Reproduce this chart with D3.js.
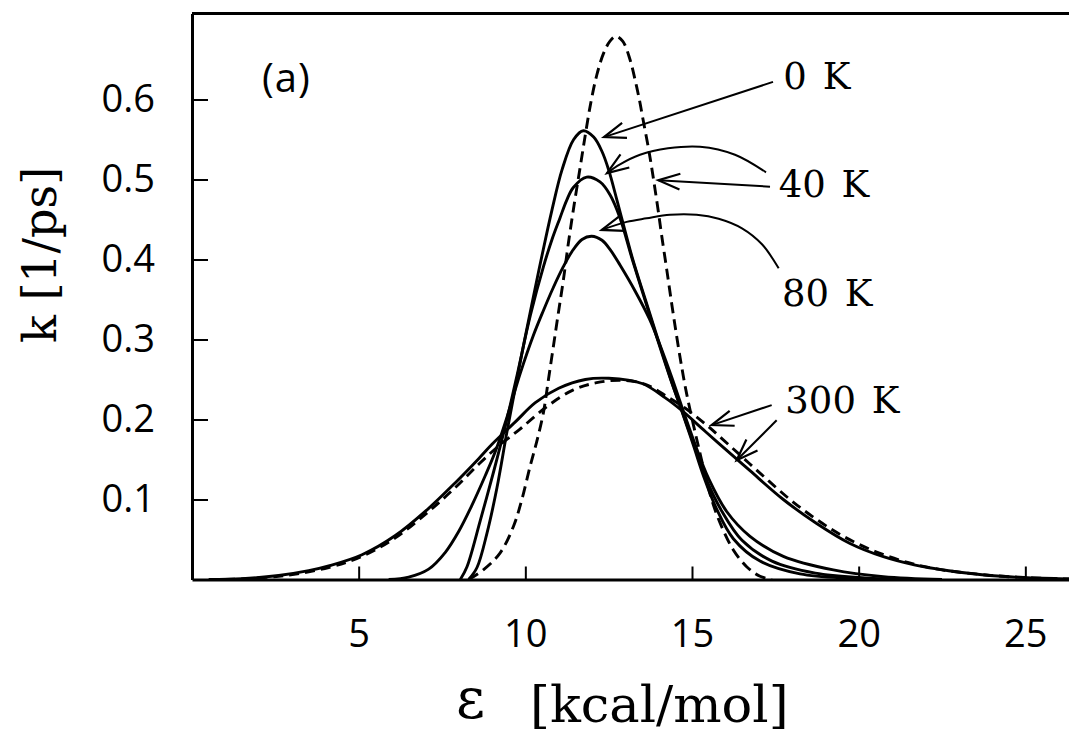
<!DOCTYPE html>
<html>
<head>
<meta charset="utf-8">
<script src="https://cdn.jsdelivr.net/npm/d3@7"></script>
<style>
  body { margin: 0; background: #fff; }
  svg { display: block; }
</style>
</head>
<body>
<svg class="chart"></svg>
<script>
// Datos: [epsilon (kcal/mol), k (1/ps)]
var solid0K = [[8.30,0.000],[8.55,0.015],[8.85,0.058],[9.15,0.115],[9.45,0.185],[9.80,0.262],[10.20,0.345],[10.50,0.405],[10.80,0.462],[11.10,0.512],[11.45,0.550],[11.74,0.561],[12.05,0.553],[12.30,0.535],[12.50,0.512],[12.75,0.474],[13.21,0.402],[13.60,0.350],[13.98,0.300],[14.36,0.251],[14.74,0.205],[15.04,0.168],[15.34,0.130],[15.74,0.088],[16.24,0.051],[17.04,0.023],[18.24,0.007],[19.74,0.0015],[21.0,0.000]];
var solid40K = [[8.05,0.000],[8.25,0.016],[8.65,0.074],[9.05,0.135],[9.40,0.192],[9.75,0.255],[10.15,0.330],[10.55,0.392],[10.80,0.425],[11.04,0.452],[11.24,0.474],[11.44,0.490],[11.84,0.503],[12.24,0.497],[12.54,0.481],[12.84,0.452],[13.21,0.400],[13.60,0.348],[13.98,0.298],[14.36,0.250],[14.74,0.206],[15.06,0.168],[15.40,0.128],[15.90,0.085],[16.50,0.049],[17.40,0.023],[18.70,0.008],[20.20,0.002],[21.5,0.000]];
var solid80K = [[5.90,0.000],[6.50,0.003],[7.10,0.013],[7.60,0.034],[8.00,0.060],[8.40,0.093],[8.80,0.130],[9.10,0.160],[9.45,0.203],[9.85,0.258],[10.24,0.305],[10.54,0.336],[10.84,0.365],[11.14,0.391],[11.40,0.410],[11.70,0.425],[11.99,0.429],[12.30,0.424],[12.55,0.412],[12.84,0.393],[13.30,0.360],[13.72,0.326],[14.05,0.292],[14.40,0.252],[14.76,0.208],[15.10,0.168],[15.50,0.126],[16.04,0.085],[16.74,0.054],[17.74,0.029],[19.24,0.012],[20.74,0.0035],[22.5,0.000]];
var solid300K = [[0.5,0.000],[1.5,0.001],[2.6,0.005],[3.5,0.011],[4.1,0.017],[5.1,0.031],[6.1,0.055],[7.1,0.089],[7.9,0.121],[8.6,0.151],[9.0,0.169],[9.7,0.197],[10.3,0.221],[11.0,0.239],[11.8,0.250],[12.5,0.2515],[13.5,0.245],[14.2,0.227],[14.7,0.211],[15.4,0.185],[16.3,0.152],[16.74,0.136],[17.74,0.100],[18.74,0.070],[19.74,0.045],[20.74,0.0285],[21.7,0.018],[22.7,0.011],[23.7,0.006],[24.7,0.003],[26.0,0.001],[27.0,0.000]];
var dashedNarrow = [[8.30,0.000],[8.74,0.012],[9.24,0.033],[9.64,0.066],[9.89,0.099],[10.14,0.141],[10.34,0.172],[10.54,0.208],[10.69,0.249],[10.84,0.291],[10.99,0.333],[11.14,0.374],[11.29,0.420],[11.47,0.470],[11.64,0.514],[11.80,0.556],[11.96,0.595],[12.14,0.630],[12.34,0.657],[12.54,0.673],[12.72,0.679],[12.92,0.673],[13.14,0.650],[13.29,0.625],[13.42,0.600],[13.54,0.573],[13.69,0.540],[13.79,0.515],[13.89,0.488],[13.99,0.460],[14.09,0.430],[14.24,0.388],[14.39,0.345],[14.54,0.304],[14.69,0.266],[14.84,0.232],[15.20,0.165],[15.59,0.100],[15.89,0.066],[16.24,0.037],[16.64,0.016],[17.04,0.004],[17.40,0.000]];
var dashed300K = [[1.0,0.000],[2.6,0.004],[4.1,0.015],[5.1,0.029],[6.1,0.052],[7.1,0.085],[7.9,0.115],[8.6,0.144],[9.2,0.167],[9.84,0.188],[10.64,0.216],[11.44,0.237],[12.14,0.246],[12.9,0.249],[13.6,0.244],[14.2,0.230],[14.8,0.214],[15.44,0.193],[16.14,0.167],[17.04,0.133],[17.94,0.100],[18.74,0.075],[19.54,0.054],[20.5,0.035],[21.5,0.021],[22.5,0.012],[23.5,0.007],[24.5,0.0035],[26.0,0.001],[27.0,0.000]];

// Marcas de los ejes
var xTicks = [5, 10, 15, 20, 25];
var yTicks = [0.1, 0.2, 0.3, 0.4, 0.5, 0.6];

// Etiquetas de temperatura y flechas (en unidades de datos)
var labels = [
  { text: "0 K",   at: [17.74, 0.613] },
  { text: "40 K",  at: [17.60, 0.478] },
  { text: "80 K",  at: [17.70, 0.342] },
  { text: "300 K", at: [17.80, 0.208] }
];
var arrows = [
  [[17.43,0.622],[12.36,0.553]],
  [[17.22,0.509],[16.29,0.531],[15.24,0.541],[14.28,0.539],[13.44,0.531],[12.84,0.519],[12.45,0.508]],
  [[17.34,0.491],[13.99,0.499]],
  [[17.60,0.389],[17.10,0.419],[16.50,0.439],[15.80,0.451],[15.14,0.456],[14.34,0.456],[13.64,0.4515],[13.04,0.447],[12.29,0.437]],
  [[17.39,0.218],[15.59,0.193]],
  [[17.54,0.199],[16.34,0.149]]
];

// Tamaño del lienzo y márgenes
var margin = { top: 13.5, left: 192 },
    width = 880,
    height = 566;

var svg = d3.select(".chart")
    .attr("width", 1069)
    .attr("height", 733);

var g = svg.append("g")
    .attr("transform", "translate(" + margin.left + "," + margin.top + ")");

// Escalas
var x = d3.scaleLinear().domain([0, 26.4]).range([0, width]);
var y = d3.scaleLinear().domain([0, 0.7075]).range([height, 0]);

// Curvas
var line = d3.line()
    .x(function(d) { return x(d[0]); })
    .y(function(d) { return y(d[1]); })
    .curve(d3.curveCatmullRom.alpha(0.5));

var series = [
  { data: solid300K, dash: null },
  { data: dashed300K, dash: "10,6" },
  { data: solid80K, dash: null },
  { data: solid40K, dash: null },
  { data: solid0K, dash: null },
  { data: dashedNarrow, dash: "11,6" }
];

series.forEach(function(s) {
  g.append("path")
      .datum(s.data)
      .attr("d", line)
      .attr("fill", "none")
      .attr("stroke", "#000")
      .attr("stroke-width", 2.9)
      .attr("stroke-dasharray", s.dash);
});

// Flechas
arrows.forEach(function(a) {
  g.append("path")
      .attr("d", line(a))
      .attr("fill", "none")
      .attr("stroke", "#000")
      .attr("stroke-width", 2);
  var tip = a[a.length - 1], prev = a[a.length - 2];
  var tx = x(tip[0]), ty = y(tip[1]);
  var ang = Math.atan2(y(prev[1]) - ty, x(prev[0]) - tx);
  var len = 23, spread = 20 * Math.PI / 180;
  var p1 = [tx + len * Math.cos(ang - spread), ty + len * Math.sin(ang - spread)];
  var p2 = [tx + len * Math.cos(ang + spread), ty + len * Math.sin(ang + spread)];
  g.append("path")
      .attr("d", "M" + p1 + "L" + [tx, ty] + "L" + p2)
      .attr("fill", "none")
      .attr("stroke", "#000")
      .attr("stroke-width", 2.2);
});

// Ejes
var xAxis = g.append("g")
    .attr("transform", "translate(0," + height + ")")
    .call(d3.axisBottom(x).tickValues(xTicks).tickSizeInner(-13).tickSizeOuter(0).tickPadding(41));

var yAxis = g.append("g")
    .call(d3.axisLeft(y).tickValues(yTicks).tickFormat(d3.format(".1f")).tickSizeInner(-16).tickSizeOuter(0).tickPadding(37));

[xAxis, yAxis].forEach(function(ax) {
  ax.select(".domain").attr("stroke-width", 3);
  ax.selectAll(".tick line").attr("stroke-width", 2);
  ax.selectAll(".tick text")
      .attr("font-family", "'Open Sans', sans-serif")
      .attr("font-size", 38)
      .attr("fill", "#000");
});

// Línea superior del marco
g.append("line")
    .attr("x1", 0).attr("x2", width)
    .attr("y1", 0).attr("y2", 0)
    .attr("stroke", "#000")
    .attr("stroke-width", 3);

// Rótulos
g.selectAll(".tlabel")
    .data(labels)
  .enter().append("text")
    .attr("class", "tlabel")
    .attr("x", function(d) { return x(d.at[0]); })
    .attr("y", function(d) { return y(d.at[1]); })
    .attr("font-family", "'DejaVu Serif', serif")
    .attr("font-size", 37)
    .attr("word-spacing", 4)
    .text(function(d) { return d.text; });

g.append("text")
    .attr("x", x(2.1))
    .attr("y", y(0.609))
    .attr("font-family", "'Open Sans', sans-serif")
    .attr("font-size", 40)
    .attr("letter-spacing", 1)
    .text("(a)");

// Títulos de los ejes
svg.append("text")
    .attr("transform", "translate(56,255) rotate(-90)")
    .attr("text-anchor", "middle")
    .attr("font-family", "'DejaVu Serif', serif")
    .attr("font-size", 46)
    .text("k [1/ps]");

svg.append("text")
    .attr("x", 456)
    .attr("y", 718)
    .attr("font-family", "'DejaVu Serif', serif")
    .attr("font-size", 56)
    .text("ε");

svg.append("text")
    .attr("x", 530)
    .attr("y", 722)
    .attr("font-family", "'DejaVu Serif', serif")
    .attr("font-size", 51)
    .text("[kcal/mol]");
</script>
</body>
</html>
